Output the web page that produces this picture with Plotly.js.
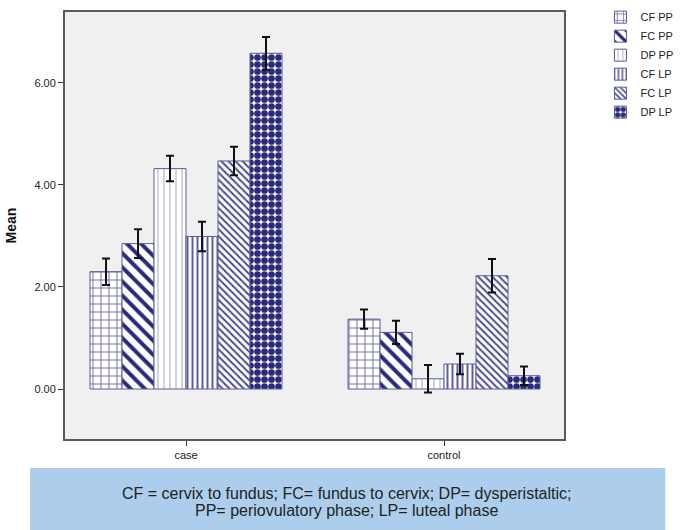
<!DOCTYPE html>
<html>
<head>
<meta charset="utf-8">
<script src="https://cdn.plot.ly/plotly-3.0.1.min.js"></script>
<style>html,body{margin:0;padding:0;background:#fff;}#chart{width:680px;height:530px;}</style>
</head>
<body>
<div id="chart"></div>
<script>
var groups = ["case", "control"];
var seriesNames = ["CF PP", "FC PP", "DP PP", "CF LP", "FC LP", "DP LP"];
var cfPP = [2.30, 1.37];
var fcPP = [2.85, 1.11];
var dpPP = [4.32, 0.20];
var cfLP = [2.99, 0.49];
var fcLP = [4.47, 2.22];
var dpLP = [6.58, 0.26];
var errCfPP = [0.26, 0.19];
var errFcPP = [0.28, 0.23];
var errDpPP = [0.25, 0.27];
var errCfLP = [0.29, 0.20];
var errFcLP = [0.28, 0.33];
var errDpLP = [0.32, 0.18];
var yTickVals = [0, 2, 4, 6];
var yTickText = ["0.00", "2.00", "4.00", "6.00"];
var footnoteLines = ["CF = cervix to fundus; FC= fundus to cervix; DP= dysperistaltic;",
                     "PP= periovulatory phase; LP= luteal phase"];

var values = [cfPP, fcPP, dpPP, cfLP, fcLP, dpLP];
var errors = [errCfPP, errFcPP, errDpPP, errCfLP, errFcLP, errDpLP];
var navy = '#2a2a7c';
var patterns = [
  {shape: '+', fgcolor: '#6a6aa8', bgcolor: '#ffffff', size: 8, solidity: 0.22},
  {shape: '\\', fgcolor: navy, bgcolor: '#ffffff', size: 10, solidity: 0.4},
  {shape: '|', fgcolor: '#b4b4d0', bgcolor: '#ffffff', size: 6, solidity: 0.2},
  {shape: '|', fgcolor: '#5c5ca2', bgcolor: '#ffffff', size: 5, solidity: 0.4},
  {shape: '\\', fgcolor: '#4a4a92', bgcolor: '#ffffff', size: 5, solidity: 0.4},
  {shape: '.', fgcolor: navy, bgcolor: '#ffffff', size: 7, solidity: 0.72}
];

var traces = seriesNames.map(function(n, i) {
  return {
    type: 'bar',
    name: n,
    x: groups,
    y: values[i],
    marker: {
      color: '#ffffff',
      line: {color: '#5a5a9c', width: 1},
      pattern: patterns[i]
    },
    error_y: {type: 'data', array: errors[i], visible: true, color: '#111111', thickness: 2, width: 4}
  };
});

var footY = [-0.128, -0.167];
var annotations = footnoteLines.map(function(t, i) {
  return {
    xref: 'paper', yref: 'paper', x: 0.565, y: footY[i],
    xanchor: 'center', yanchor: 'middle', showarrow: false,
    text: t, align: 'center',
    font: {size: 16, color: '#222', family: 'Liberation Sans, Arial, sans-serif'}
  };
});

var layout = {
  width: 680, height: 530,
  margin: {l: 65, r: 116, t: 12, b: 91, autoexpand: false},
  paper_bgcolor: '#ffffff',
  plot_bgcolor: '#f0f0f0',
  font: {family: 'Liberation Sans, Arial, sans-serif', size: 11, color: '#222'},
  barmode: 'group',
  bargap: 0.256,
  bargroupgap: 0,
  showlegend: true,
  legend: {xref: 'container', yref: 'container', x: 0.883, y: 0.995, xanchor: 'left', yanchor: 'top',
           font: {size: 11, color: '#222'}, bgcolor: 'rgba(0,0,0,0)', tracegroupgap: 0},
  xaxis: {
    range: [-0.469, 1.465],
    showline: true, mirror: true, linecolor: '#5a5a5a', linewidth: 2,
    ticks: 'outside', ticklen: 5, tickcolor: '#333', tickwidth: 1,
    showgrid: false, zeroline: false, fixedrange: true,
    tickfont: {size: 11, color: '#222'}
  },
  yaxis: {
    range: [-0.98, 7.39],
    tickvals: yTickVals, ticktext: yTickText,
    showline: true, mirror: true, linecolor: '#5a5a5a', linewidth: 2,
    ticks: 'outside', ticklen: 5, tickcolor: '#333', tickwidth: 1,
    showgrid: false, zeroline: false,
    tickfont: {size: 11, color: '#222'},
    title: {text: 'Mean', font: {size: 14, color: '#111', family: 'Liberation Sans, Arial, sans-serif', weight: 'bold'}, standoff: 14}
  },
  shapes: [{
    type: 'rect', xref: 'paper', yref: 'paper',
    x0: -0.07, x1: 1.203, y0: -0.068, y1: -0.215,
    fillcolor: '#acceec', line: {width: 0}, layer: 'below'
  }],
  annotations: annotations
};

Plotly.newPlot('chart', traces, layout, {displayModeBar: false, staticPlot: true});
</script>
</body>
</html>
